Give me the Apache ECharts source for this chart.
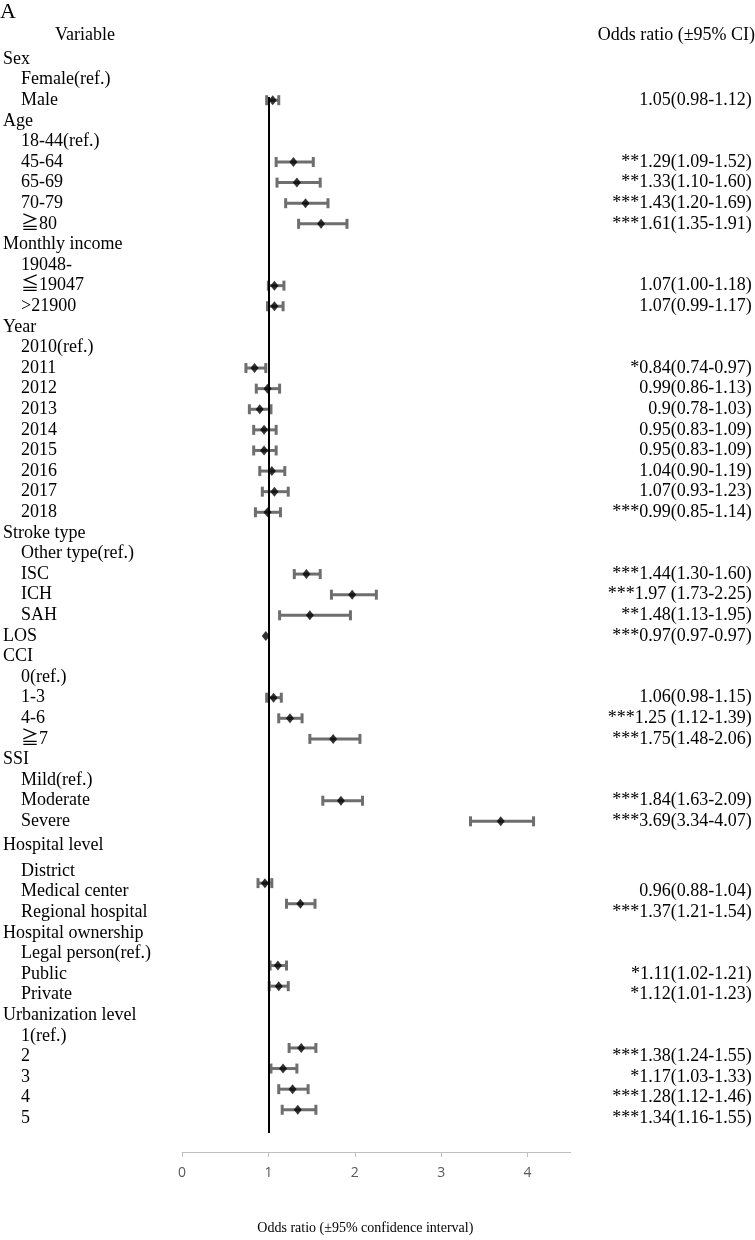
<!DOCTYPE html>
<html><head><meta charset="utf-8">
<script src="https://cdn.jsdelivr.net/npm/echarts@6/dist/echarts.min.js"></script>
<style>html,body{margin:0;padding:0;background:#fff}#c{width:755px;height:1240px}</style>
</head><body><div id="c"></div>
<script>
// ---- data ----
const rowLabels = ['Sex','Female(ref.)','Male','Age','18-44(ref.)','45-64','65-69','70-79','≧80',
 'Monthly income','19048-','≦19047','>21900','Year','2010(ref.)','2011','2012','2013','2014','2015','2016','2017','2018',
 'Stroke type','Other type(ref.)','ISC','ICH','SAH','LOS','CCI','0(ref.)','1-3','4-6','≧7',
 'SSI','Mild(ref.)','Moderate','Severe','Hospital level','District','Medical center','Regional hospital',
 'Hospital ownership','Legal person(ref.)','Public','Private','Urbanization level','1(ref.)','2','3','4','5'];
const rowIndent = [0,1,1,0,1,1,1,1,1, 0,1,1,1,0,1,1,1,1,1,1,1,1,1, 0,1,1,1,1,0,0,1,1,1,1, 0,1,1,1,0,1,1,1, 0,1,1,1,0,1,1,1,1,1];
const oddsRatio = [null,null,1.05,null,null,1.29,1.33,1.43,1.61, null,null,1.07,1.07,null,null,0.84,0.99,0.90,0.95,0.95,1.04,1.07,0.99,
 null,null,1.44,1.97,1.48,0.97,null,null,1.06,1.25,1.75, null,null,1.84,3.69,null,null,0.96,1.37, null,null,1.11,1.12,null,null,1.38,1.17,1.28,1.34];
const ciLower = [null,null,0.98,null,null,1.09,1.10,1.20,1.35, null,null,1.00,0.99,null,null,0.74,0.86,0.78,0.83,0.83,0.90,0.93,0.85,
 null,null,1.30,1.73,1.13,0.97,null,null,0.98,1.12,1.48, null,null,1.63,3.34,null,null,0.88,1.21, null,null,1.02,1.01,null,null,1.24,1.03,1.12,1.16];
const ciUpper = [null,null,1.12,null,null,1.52,1.60,1.69,1.91, null,null,1.18,1.17,null,null,0.97,1.13,1.03,1.09,1.09,1.19,1.23,1.14,
 null,null,1.60,2.25,1.95,0.97,null,null,1.15,1.39,2.06, null,null,2.09,4.07,null,null,1.04,1.54, null,null,1.21,1.23,null,null,1.55,1.33,1.46,1.55];
const rightLabels = ['','','1.05(0.98-1.12)','','','**1.29(1.09-1.52)','**1.33(1.10-1.60)','***1.43(1.20-1.69)','***1.61(1.35-1.91)',
 '','','1.07(1.00-1.18)','1.07(0.99-1.17)','','','*0.84(0.74-0.97)','0.99(0.86-1.13)','0.9(0.78-1.03)','0.95(0.83-1.09)','0.95(0.83-1.09)','1.04(0.90-1.19)','1.07(0.93-1.23)','***0.99(0.85-1.14)',
 '','','***1.44(1.30-1.60)','***1.97 (1.73-2.25)','**1.48(1.13-1.95)','***0.97(0.97-0.97)','','','1.06(0.98-1.15)','***1.25 (1.12-1.39)','***1.75(1.48-2.06)',
 '','','***1.84(1.63-2.09)','***3.69(3.34-4.07)','','','0.96(0.88-1.04)','***1.37(1.21-1.54)',
 '','','*1.11(1.02-1.21)','*1.12(1.01-1.23)','','','***1.38(1.24-1.55)','*1.17(1.03-1.33)','***1.28(1.12-1.46)','***1.34(1.16-1.55)'];
const xTicks = [0,1,2,3,4];
const refValue = 1;
const titleText = 'A';
const leftHeader = 'Variable';
const rightHeader = 'Odds ratio (±95% CI)';
const xAxisTitle = 'Odds ratio (±95% confidence interval)';

// ---- build ----
const SERIF = "'Liberation Serif','Noto Sans CJK JP',serif";
const FS = 18;
const smallShiftRow = rowLabels.indexOf('Hospital level');
const shiftFrom = rowLabels.indexOf('District');
function shiftKey(i){ return i>=shiftFrom ? 'L' : (i===smallShiftRow ? 'S' : ''); }
const pointData = [], barData = [];
oddsRatio.forEach((v,i)=>{ if(v!=null){ pointData.push([v,i]); barData.push([i,ciLower[i],ciUpper[i]]); }});

const base = {fontFamily:SERIF,fontSize:FS,color:'#000'};
const rich = {
  h: Object.assign({},base),
  hS:Object.assign({},base,{padding:[6,0,0,0]}),
  hL:Object.assign({},base,{padding:[17,0,0,0]}),
  c: Object.assign({},base,{padding:[0,0,0,18]}),
  cS:Object.assign({},base,{padding:[6,0,0,18]}),
  cL:Object.assign({},base,{padding:[17,0,0,18]}),
  r: Object.assign({},base),
  rS:Object.assign({},base,{padding:[6,0,0,0]}),
  rL:Object.assign({},base,{padding:[17,0,0,0]})
};
const chart = echarts.init(document.getElementById('c'), null, {renderer:'canvas'});
const yCommon = {type:'value',min:0,max:53.05,interval:1,inverse:true,
  axisLine:{show:false},axisTick:{show:false},splitLine:{show:false}};
chart.setOption({
  animation:false,
  backgroundColor:'#fff',
  title:[
    {text:titleText,left:0,top:1,padding:0,textStyle:{fontFamily:SERIF,fontSize:22,fontWeight:'normal',color:'#000'}},
    {text:leftHeader,left:55,top:26,padding:0,textStyle:{fontFamily:SERIF,fontSize:FS,fontWeight:'normal',color:'#000'}},
    {text:rightHeader,right:0,top:26,padding:0,textStyle:{fontFamily:SERIF,fontSize:FS,fontWeight:'normal',color:'#000'}}
  ],
  grid:{left:181.7,right:184.3,top:59,bottom:85,containLabel:false},
  xAxis:{type:'value',min:0,max:4.5,interval:1,position:'bottom',
    axisLine:{show:true,onZero:false,lineStyle:{color:'#c0c0c0',width:1}},
    axisTick:{show:true,length:5,lineStyle:{color:'#c0c0c0'}},
    splitLine:{show:false},
    axisLabel:{margin:14,color:'#595959',fontFamily:"'Open Sans','Liberation Sans',sans-serif",fontSize:14,
      formatter:v=>xTicks.includes(v)?String(v):'' ,showMaxLabel:false},
    name:xAxisTitle,nameLocation:'middle',nameGap:69,
    nameTextStyle:{fontFamily:SERIF,fontSize:14,color:'#000',padding:[0,22,0,0]}
  },
  yAxis:[
    Object.assign({},yCommon,{position:'left',
      axisLabel:{align:'left',margin:179,rich:rich,
        formatter:v=>{const i=Math.round(v); if(i!==v||i<0||i>=rowLabels.length) return '';
          const k=(rowIndent[i]?'c':'h')+shiftKey(i); return '{'+k+'|'+rowLabels[i]+'}';}}}),
    Object.assign({},yCommon,{position:'right',
      axisLabel:{align:'right',margin:181,rich:rich,
        formatter:v=>{const i=Math.round(v); if(i!==v||i<0||i>=rightLabels.length||!rightLabels[i]) return '';
          const k='r'+shiftKey(i); return '{'+k+'|'+rightLabels[i]+'}';}}})
  ],
  series:[
    {type:'custom',xAxisIndex:0,yAxisIndex:0,data:barData,encode:{x:[1,2],y:0},z:2,
      renderItem:(params,api)=>{
        const y=api.value(0), lo=api.value(1), hi=api.value(2);
        const a=api.coord([lo,y]), b=api.coord([hi,y]);
        const st={stroke:'#6e6e6e',lineWidth:3};
        const ch=[{type:'line',shape:{x1:a[0],y1:a[1],x2:b[0],y2:b[1]},style:st}];
        if(hi>lo){
          ch.push({type:'line',shape:{x1:a[0],y1:a[1]-5,x2:a[0],y2:a[1]+5},style:st});
          ch.push({type:'line',shape:{x1:b[0],y1:b[1]-5,x2:b[0],y2:b[1]+5},style:st});
        }
        return {type:'group',children:ch};
      }},
    {type:'scatter',xAxisIndex:0,yAxisIndex:0,data:pointData,symbol:'diamond',symbolSize:[8,10],
      itemStyle:{color:'#000'},z:3,
      markLine:{silent:true,symbol:'none',label:{show:false},lineStyle:{color:'#000',width:2,type:'solid'},
        data:[[{coord:[refValue,1.84]},{coord:[refValue,52.13]}]]}}
  ]
});
</script></body></html>
